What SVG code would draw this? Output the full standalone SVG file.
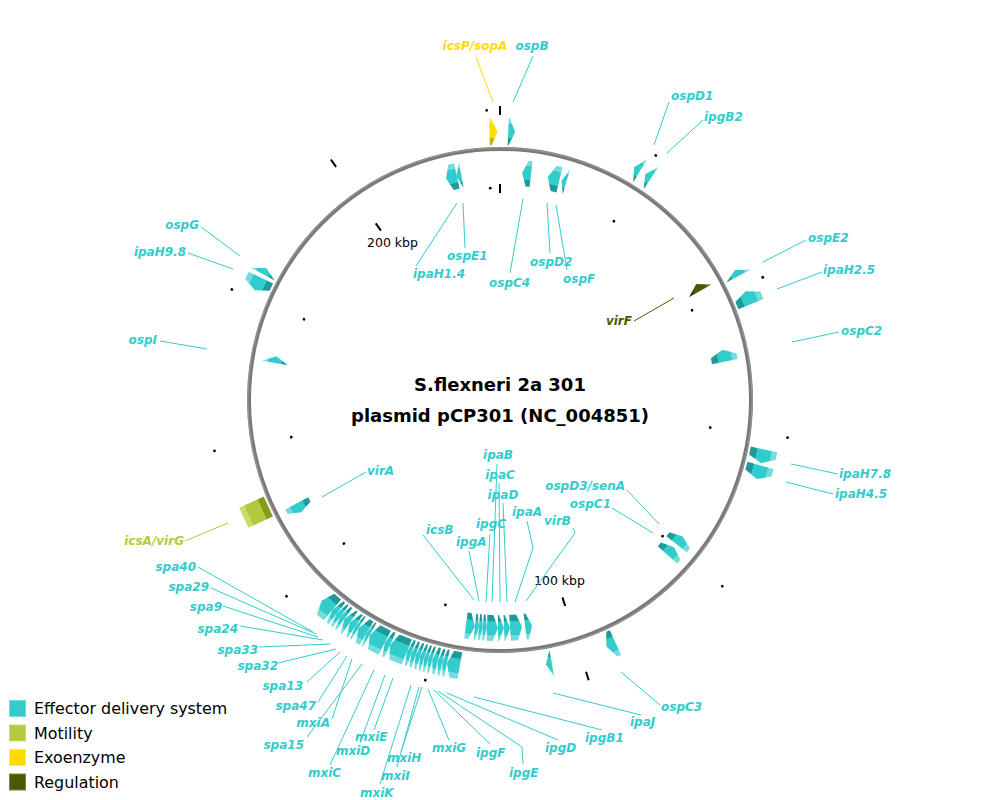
<svg xmlns="http://www.w3.org/2000/svg" width="1000" height="800" viewBox="0 0 1000 800">
<defs>
<linearGradient id="gc" x1="0" y1="0" x2="0" y2="1">
<stop offset="0" stop-color="#74dcdc"/><stop offset="0.2" stop-color="#74dcdc"/><stop offset="0.22" stop-color="#33cccc"/><stop offset="0.74" stop-color="#33cccc"/><stop offset="0.76" stop-color="#1f9a9a"/><stop offset="1" stop-color="#1f9a9a"/>
</linearGradient>
<linearGradient id="gy" x1="0" y1="0" x2="0" y2="1">
<stop offset="0" stop-color="#ffe650"/><stop offset="0.2" stop-color="#ffe650"/><stop offset="0.22" stop-color="#ffdd00"/><stop offset="0.74" stop-color="#ffdd00"/><stop offset="0.76" stop-color="#cfae00"/><stop offset="1" stop-color="#cfae00"/>
</linearGradient>
<linearGradient id="gg" x1="0" y1="0" x2="0" y2="1">
<stop offset="0" stop-color="#cadb6e"/><stop offset="0.2" stop-color="#cadb6e"/><stop offset="0.22" stop-color="#b3c93c"/><stop offset="0.74" stop-color="#b3c93c"/><stop offset="0.76" stop-color="#879a1e"/><stop offset="1" stop-color="#879a1e"/>
</linearGradient>
<linearGradient id="go" x1="0" y1="0" x2="0" y2="1">
<stop offset="0" stop-color="#6a7812"/><stop offset="0.2" stop-color="#6a7812"/><stop offset="0.22" stop-color="#4d5900"/><stop offset="0.74" stop-color="#4d5900"/><stop offset="0.76" stop-color="#343d00"/><stop offset="1" stop-color="#343d00"/>
</linearGradient>
</defs>
<style>
.lab{font-family:"DejaVu Sans",Verdana,sans-serif;font-size:12px;font-weight:bold;font-style:italic}
.t{fill:#33cccc}
.ty{fill:#fedc00}
.tg{fill:#b3cc33}
.to{fill:#4d5900}
.c{fill:url(#gc)}
.y{fill:url(#gy)}
.g{fill:url(#gg)}
.o{fill:url(#go)}
.ln{fill:none;stroke-width:1}
.lc{stroke:#33cccc}
.ly{stroke:#fedc00}
.lg{stroke:#b3cc33}
.lo{stroke:#4d5900}
.tick{stroke:#000;stroke-width:2}
.dot{fill:#000}
.kbp{font-family:"DejaVu Sans",Verdana,sans-serif;font-size:12.5px;fill:#000}
.title{font-family:"DejaVu Sans",Verdana,sans-serif;font-size:18px;font-weight:bold;fill:#000}
.leg{font-family:"DejaVu Sans",Verdana,sans-serif;font-size:15.9px;fill:#000}
</style>
<rect width="1000" height="800" fill="#fff"/>

<g id="backbone">
<circle cx="500" cy="400" r="251" fill="none" stroke="#7a7a7a" stroke-width="4"/>
<circle cx="500" cy="400" r="252.3" fill="none" stroke="#9a9a9a" stroke-width="1"/>
</g>

<g id="ticks">
<line class="tick" x1="500" y1="106" x2="500" y2="115"/>
<line class="tick" x1="500" y1="184" x2="500" y2="193"/>
<line class="tick" x1="500" y1="106" x2="500" y2="115" transform="rotate(162.44 500 400)"/>
<line class="tick" x1="500" y1="184" x2="500" y2="193" transform="rotate(162.44 500 400)"/>
<line class="tick" x1="500" y1="106" x2="500" y2="115" transform="rotate(324.88 500 400)"/>
<line class="tick" x1="500" y1="184" x2="500" y2="193" transform="rotate(324.88 500 400)"/>
<g class="dot">
<circle cx="500" cy="110" r="1.4" transform="rotate(32.49 500 400)"/><circle cx="500" cy="188" r="1.4" transform="rotate(32.49 500 400)"/>
<circle cx="500" cy="110" r="1.4" transform="rotate(64.97 500 400)"/><circle cx="500" cy="188" r="1.4" transform="rotate(64.97 500 400)"/>
<circle cx="500" cy="110" r="1.4" transform="rotate(97.46 500 400)"/><circle cx="500" cy="188" r="1.4" transform="rotate(97.46 500 400)"/>
<circle cx="500" cy="110" r="1.4" transform="rotate(129.95 500 400)"/><circle cx="500" cy="188" r="1.4" transform="rotate(129.95 500 400)"/>
<circle cx="500" cy="110" r="1.4" transform="rotate(194.93 500 400)"/><circle cx="500" cy="188" r="1.4" transform="rotate(194.93 500 400)"/>
<circle cx="500" cy="110" r="1.4" transform="rotate(227.41 500 400)"/><circle cx="500" cy="188" r="1.4" transform="rotate(227.41 500 400)"/>
<circle cx="500" cy="110" r="1.4" transform="rotate(259.90 500 400)"/><circle cx="500" cy="188" r="1.4" transform="rotate(259.90 500 400)"/>
<circle cx="500" cy="110" r="1.4" transform="rotate(292.39 500 400)"/><circle cx="500" cy="188" r="1.4" transform="rotate(292.39 500 400)"/>
<circle cx="500" cy="110" r="1.4" transform="rotate(357.37 500 400)"/><circle cx="500" cy="188" r="1.4" transform="rotate(357.37 500 400)"/>
</g>
<text class="kbp" x="392.5" y="247" text-anchor="middle">200 kbp</text>
<text class="kbp" x="559.5" y="585" text-anchor="middle">100 kbp</text>
</g>

<g id="title">
<text class="title" x="500" y="391" text-anchor="middle">S.flexneri 2a 301</text>
<text class="title" x="500" y="422" text-anchor="middle">plasmid pCP301 (NC_004851)</text>
</g>

<g id="connectors">
<polyline class="ln ly" points="476,57 493,102"/>
<polyline class="ln lc" points="533,56 513,102"/>
<polyline class="ln lc" points="669,102 654,145"/>
<polyline class="ln lc" points="703,120 667,153"/>
<polyline class="ln lc" points="806,240 763,262"/>
<polyline class="ln lc" points="822,272 777,289"/>
<polyline class="ln lc" points="839,332 792,342"/>
<polyline class="ln lc" points="838,474 791,464"/>
<polyline class="ln lc" points="833,494 786,482"/>
<polyline class="ln lc" points="660,705 621,672"/>
<polyline class="ln lc" points="641,715 553,693"/>
<polyline class="ln lc" points="602,730 474,697"/>
<polyline class="ln lc" points="558,740 447,693"/>
<polyline class="ln lc" points="523,764 522,747 438,691"/>
<polyline class="ln lc" points="490,744 434,690"/>
<polyline class="ln lc" points="449,740 428,689"/>
<polyline class="ln lc" points="401,752 422,687"/>
<polyline class="ln lc" points="397,767 419,687"/>
<polyline class="ln lc" points="380,784 411,685"/>
<polyline class="ln lc" points="374,730 393,678"/>
<polyline class="ln lc" points="360,743 385,675"/>
<polyline class="ln lc" points="330,765 374,670"/>
<polyline class="ln lc" points="307,737 362,664"/>
<polyline class="ln lc" points="332,719 352,659"/>
<polyline class="ln lc" points="318,702 347,656"/>
<polyline class="ln lc" points="307,682 340,652"/>
<polyline class="ln lc" points="278,663 336,649"/>
<polyline class="ln lc" points="259,647 330,644"/>
<polyline class="ln lc" points="240,626 323,640"/>
<polyline class="ln lc" points="223,606 318,637"/>
<polyline class="ln lc" points="211,588 316,634"/>
<polyline class="ln lc" points="198,567 313,632"/>
<polyline class="ln lg" points="185,541 228,523"/>
<polyline class="ln lc" points="160,341 207,349"/>
<polyline class="ln lc" points="188,253 233,269"/>
<polyline class="ln lc" points="201,227 240,256"/>
<polyline class="ln lc" points="416,266 457,203"/>
<polyline class="ln lc" points="465,248 463,203"/>
<polyline class="ln lc" points="510,273 523,199"/>
<polyline class="ln lc" points="550,253 547,203"/>
<polyline class="ln lc" points="567,270 556,205"/>
<polyline class="ln lo" points="634,321 674,298"/>
<polyline class="ln lc" points="366,472 322,497"/>
<polyline class="ln lc" points="423,535 474,600"/>
<polyline class="ln lc" points="469,551 479,601"/>
<polyline class="ln lc" points="490,534 486,602"/>
<polyline class="ln lc" points="497,464 492,602"/>
<polyline class="ln lc" points="499,483 500,602"/>
<polyline class="ln lc" points="503,503 507,602"/>
<polyline class="ln lc" points="527,521 533,548 515,602"/>
<polyline class="ln lc" points="573,528 575,533 526,601"/>
<polyline class="ln lc" points="627,490 659,524"/>
<polyline class="ln lc" points="612,508 653,533"/>
</g>

<g id="g-icsP-sopA"><polygon class="y" transform="rotate(-1.4 500 400)" points="496,118 498,118 504,131.5 498,145 496,145"/><text class="lab ty" x="475" y="50" text-anchor="middle">icsP/sopA</text></g>
<g id="g-ospB"><polygon class="c" transform="rotate(2.5 500 400)" points="496.5,118 497.5,118 503.5,131.5 497.5,145 496.5,145"/><text class="lab t" x="532" y="50" text-anchor="middle">ospB</text></g>
<g id="g-ospD1"><polygon class="c" transform="rotate(30.7 500 400)" points="503.5,118 496.5,131.5 503.5,145"/><text class="lab t" x="671" y="100">ospD1</text></g>
<g id="g-ipgB2"><polygon class="c" transform="rotate(33.5 500 400)" points="503.5,118 496.5,131.5 503.5,145"/><text class="lab t" x="704" y="121">ipgB2</text></g>
<g id="g-ospE2"><polygon class="c" transform="rotate(61.8 500 400)" points="503.5,118 496.5,131.5 503.5,145"/><text class="lab t" x="808" y="242">ospE2</text></g>
<g id="g-ipaH2.5"><polygon class="c" transform="rotate(67.6 500 400)" points="507,118 499,118 493,131.5 499,145 507,145"/><text class="lab t" x="823" y="274">ipaH2.5</text></g>
<g id="g-ipaH7.8"><polygon class="c" transform="rotate(102.1 500 400)" points="493,118 501,118 507,131.5 501,145 493,145"/><text class="lab t" x="839" y="478">ipaH7.8</text></g>
<g id="g-ipaH4.5"><polygon class="c" transform="rotate(105.6 500 400)" points="493,118 501,118 507,131.5 501,145 493,145"/><text class="lab t" x="835" y="498">ipaH4.5</text></g>
<g id="g-ospC3"><polygon class="c" transform="rotate(155.6 500 400)" points="495,118 499,118 505,131.5 499,145 495,145"/><text class="lab t" x="661" y="711">ospC3</text></g>
<g id="g-ipaJ"><polygon class="c" transform="rotate(169.5 500 400)" points="497,118 503,131.5 497,145"/><text class="lab t" x="630" y="726">ipaJ</text></g>
<g id="g-icsA-virG"><polygon class="g" transform="rotate(245.3 500 400)" points="489,118 511,118 511,145 489,145"/><text class="lab tg" x="184" y="545" text-anchor="end">icsA/virG</text></g>
<g id="g-ipaH9.8"><polygon class="c" transform="rotate(295.6 500 400)" points="507,118 499,118 493,131.5 499,145 507,145"/><text class="lab t" x="186" y="256" text-anchor="end">ipaH9.8</text></g>
<g id="g-ospG"><polygon class="c" transform="rotate(298.7 500 400)" points="496.5,118 503.5,131.5 496.5,145"/><text class="lab t" x="199" y="229" text-anchor="end">ospG</text></g>

<g id="g-ipaH1.4"><polygon class="c" transform="rotate(-12.3 500 400)" points="505.5,159 499.5,159 494.5,172 499.5,185 505.5,185"/><text class="lab t" x="413" y="278">ipaH1.4</text></g>
<g id="g-ospE1"><polygon class="c" transform="rotate(-10.4 500 400)" points="502.5,159 497.5,172 502.5,185"/><text class="lab t" x="447" y="260">ospE1</text></g>
<g id="g-ospC4"><polygon class="c" transform="rotate(6.7 500 400)" points="504.5,159 500.5,159 495.5,172 500.5,185 504.5,185"/><text class="lab t" x="489" y="287">ospC4</text></g>
<g id="g-ospD2"><polygon class="c" transform="rotate(13.6 500 400)" points="506,159 500,159 494,172 500,185 506,185"/><text class="lab t" x="530" y="266">ospD2</text></g>
<g id="g-ospF"><polygon class="c" transform="rotate(16.3 500 400)" points="502.5,159 497.5,172 502.5,185"/><text class="lab t" x="563" y="283">ospF</text></g>
<g id="g-virF"><polygon class="o" transform="rotate(60.4 500 400)" points="504,159 496,172 504,185"/><text class="lab to" x="632" y="325" text-anchor="end">virF</text></g>
<g id="g-ospC2"><polygon class="c" transform="rotate(78.8 500 400)" points="506,159 500,159 494,172 500,185 506,185"/><text class="lab t" x="841" y="335">ospC2</text></g>
<g id="g-ospD3-senA"><polygon class="c" transform="rotate(128 500 400)" points="505,159 500,159 495,172 500,185 505,185"/><text class="lab t" x="625" y="490" text-anchor="end">ospD3/senA</text></g>
<g id="g-ospC1"><polygon class="c" transform="rotate(131.5 500 400)" points="505,159 500,159 495,172 500,185 505,185"/><text class="lab t" x="611" y="508" text-anchor="end">ospC1</text></g>
<g id="g-virA"><polygon class="c" transform="rotate(241.8 500 400)" points="505,159 500,159 495,172 500,185 505,185"/><text class="lab t" x="367" y="475">virA</text></g>
<g id="g-ospI"><polygon class="c" transform="rotate(280.2 500 400)" points="496.5,159 503.5,172 496.5,185"/><text class="lab t" x="157" y="344" text-anchor="end">ospI</text></g>

<g id="g-icsB"><polygon class="c" transform="rotate(187.47 500 400)" points="504.5,159 500.5,159 495.5,172 500.5,185 504.5,185"/><text class="lab t" x="426" y="534">icsB</text></g>
<g id="g-ipgA"><polygon class="c" transform="rotate(185.82 500 400)" points="502,159 500.4,159 498,172 500.4,185 502,185"/><text class="lab t" x="456" y="546">ipgA</text></g>
<g id="g-ipgB1"><polygon class="c" transform="rotate(184.80 500 400)" points="502,159 500.4,159 498,172 500.4,185 502,185"/><text class="lab t" x="585" y="742">ipgB1</text></g>
<g id="g-ipgC"><polygon class="c" transform="rotate(183.79 500 400)" points="502,159 500.4,159 498,172 500.4,185 502,185"/><text class="lab t" x="476" y="528">ipgC</text></g>
<g id="g-ipaB"><polygon class="c" transform="rotate(181.89 500 400)" points="505.5,159 499.5,159 494.5,172 499.5,185 505.5,185"/><text class="lab t" x="498" y="459" text-anchor="middle">ipaB</text></g>
<g id="g-ipaC"><polygon class="c" transform="rotate(179.75 500 400)" points="503,159 502,159 497,172 502,185 503,185"/><text class="lab t" x="500" y="479" text-anchor="middle">ipaC</text></g>
<g id="g-ipaD"><polygon class="c" transform="rotate(178.23 500 400)" points="503,159 502,159 497,172 502,185 503,185"/><text class="lab t" x="503" y="499" text-anchor="middle">ipaD</text></g>
<g id="g-ipaA"><polygon class="c" transform="rotate(175.96 500 400)" points="506,159 499,159 494,172 499,185 506,185"/><text class="lab t" x="512" y="516">ipaA</text></g>
<g id="g-virB"><polygon class="c" transform="rotate(172.79 500 400)" points="503.5,159 501.5,159 496.5,172 501.5,185 503.5,185"/><text class="lab t" x="544" y="525">virB</text></g>

<g id="g-ipgD"><polygon class="c" transform="rotate(190.0 500 400)" points="493.4,118 501.6,118 506.6,131.5 501.6,145 493.4,145"/><text class="lab t" x="545" y="752">ipgD</text></g>
<g id="g-ipgE"><polygon class="c" transform="rotate(191.9 500 400)" points="497.65,118 499.55,118 502.35,131.5 499.55,145 497.65,145"/><text class="lab t" x="509" y="777">ipgE</text></g>
<g id="g-ipgF"><polygon class="c" transform="rotate(192.9 500 400)" points="497.65,118 499.55,118 502.35,131.5 499.55,145 497.65,145"/><text class="lab t" x="476" y="757">ipgF</text></g>
<g id="g-mxiG"><polygon class="c" transform="rotate(194.0 500 400)" points="497.2,118 499.4,118 502.8,131.5 499.4,145 497.2,145"/><text class="lab t" x="432" y="752">mxiG</text></g>
<g id="g-mxiH"><polygon class="c" transform="rotate(195.05 500 400)" points="497.9,118 499.6,118 502.1,131.5 499.6,145 497.9,145"/><text class="lab t" x="387" y="762">mxiH</text></g>
<g id="g-mxiI"><polygon class="c" transform="rotate(195.95 500 400)" points="497.9,118 499.6,118 502.1,131.5 499.6,145 497.9,145"/><text class="lab t" x="381" y="780">mxiI</text></g>
<g id="g-unlabeled-1"><polygon class="c" transform="rotate(196.85 500 400)" points="497.9,118 499.6,118 502.1,131.5 499.6,145 497.9,145"/></g>
<g id="g-mxiK"><polygon class="c" transform="rotate(197.8 500 400)" points="497.65,118 499.55,118 502.35,131.5 499.55,145 497.65,145"/><text class="lab t" x="360" y="797">mxiK</text></g>
<g id="g-unlabeled-2"><polygon class="c" transform="rotate(198.8 500 400)" points="497.65,118 499.55,118 502.35,131.5 499.55,145 497.65,145"/></g>
<g id="g-mxiE"><polygon class="c" transform="rotate(199.8 500 400)" points="497.65,118 499.55,118 502.35,131.5 499.55,145 497.65,145"/><text class="lab t" x="355" y="741">mxiE</text></g>
<g id="g-mxiD"><polygon class="c" transform="rotate(202.25 500 400)" points="490.9,118 504.1,118 509.1,131.5 504.1,145 490.9,145"/><text class="lab t" x="336" y="755">mxiD</text></g>
<g id="g-mxiC"><polygon class="c" transform="rotate(204.8 500 400)" points="497.2,118 499.4,118 502.8,131.5 499.4,145 497.2,145"/><text class="lab t" x="308" y="777">mxiC</text></g>
<g id="g-mxiA"><polygon class="c" transform="rotate(207.2 500 400)" points="491.6,118 503.4,118 508.4,131.5 503.4,145 491.6,145"/><text class="lab t" x="330" y="727" text-anchor="end">mxiA</text></g>
<g id="g-spa15"><polygon class="c" transform="rotate(209.4 500 400)" points="498.15,118 499.65,118 501.85,131.5 499.65,145 498.15,145"/><text class="lab t" x="304" y="749" text-anchor="end">spa15</text></g>
<g id="g-spa47"><polygon class="c" transform="rotate(210.8 500 400)" points="495.3,118 499.7,118 504.7,131.5 499.7,145 495.3,145"/><text class="lab t" x="316" y="710" text-anchor="end">spa47</text></g>
<g id="g-spa13"><polygon class="c" transform="rotate(212.2 500 400)" points="498.15,118 499.65,118 501.85,131.5 499.65,145 498.15,145"/><text class="lab t" x="303" y="690" text-anchor="end">spa13</text></g>
<g id="g-spa32"><polygon class="c" transform="rotate(213.3 500 400)" points="496.7,118 498.3,118 503.3,131.5 498.3,145 496.7,145"/><text class="lab t" x="278" y="670" text-anchor="end">spa32</text></g>
<g id="g-spa33"><polygon class="c" transform="rotate(214.7 500 400)" points="496.7,118 498.3,118 503.3,131.5 498.3,145 496.7,145"/><text class="lab t" x="258" y="654" text-anchor="end">spa33</text></g>
<g id="g-spa24"><polygon class="c" transform="rotate(215.9 500 400)" points="497.65,118 499.55,118 502.35,131.5 499.55,145 497.65,145"/><text class="lab t" x="238" y="633" text-anchor="end">spa24</text></g>
<g id="g-spa9"><polygon class="c" transform="rotate(216.9 500 400)" points="497.65,118 499.55,118 502.35,131.5 499.55,145 497.65,145"/><text class="lab t" x="222" y="611" text-anchor="end">spa9</text></g>
<g id="g-spa29"><polygon class="c" transform="rotate(218.0 500 400)" points="497.2,118 499.4,118 502.8,131.5 499.4,145 497.2,145"/><text class="lab t" x="209" y="591" text-anchor="end">spa29</text></g>
<g id="g-spa40"><polygon class="c" transform="rotate(220.1 500 400)" points="493,118 502,118 507,131.5 502,145 493,145"/><text class="lab t" x="196" y="571" text-anchor="end">spa40</text></g>

<g id="legend">
<rect x="9.5" y="700.5" width="16" height="16" fill="#33cccc" stroke="#7adada"/>
<text class="leg" x="34" y="714">Effector delivery system</text>
<rect x="9.5" y="725" width="16" height="16" fill="#b3c940" stroke="#cadb7a"/>
<text class="leg" x="34" y="738.5">Motility</text>
<rect x="9.5" y="749.5" width="16" height="16" fill="#fedc00" stroke="#ffe866"/>
<text class="leg" x="34" y="763">Exoenzyme</text>
<rect x="9.5" y="774" width="16" height="16" fill="#4d5900" stroke="#7a8440"/>
<text class="leg" x="34" y="787.5">Regulation</text>
</g>
</svg>
